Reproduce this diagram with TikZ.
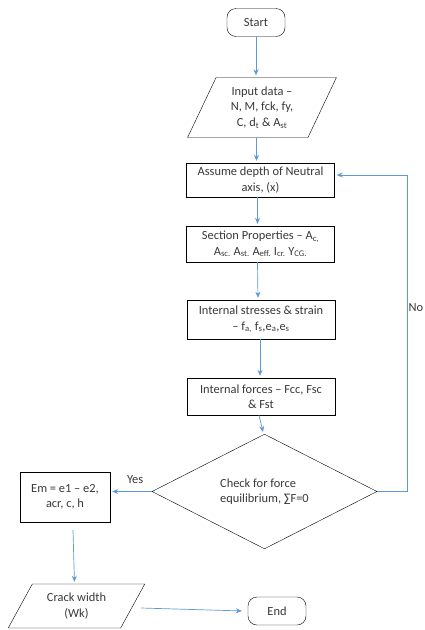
\documentclass[tikz,border=0pt]{standalone}
\usepackage{fontspec}
\setmainfont{Carlito}
\usepackage{tikz}
\usetikzlibrary{arrows.meta,positioning,shapes.geometric,calc}
\definecolor{flowblue}{RGB}{91,155,213}
\definecolor{txtgray}{RGB}{56,56,56}

\begin{document}
\begin{tikzpicture}[
        x=1pt,y=-1pt,
        every node/.style={font=\fontsize{12.4}{15.5}\selectfont,text=txtgray},
        term/.style={draw,rounded corners=9pt,minimum width=58pt,minimum height=28pt},
        proc/.style={draw,align=center,minimum width=148pt,minimum height=37pt,inner sep=1pt},
        io/.style={draw,trapezium,trapezium left angle=#1,trapezium right angle=180-#1,
          trapezium stretches=true,align=center,inner sep=0pt},
        dec/.style={draw,diamond,align=left,minimum width=225pt,minimum height=87pt,inner sep=0pt},
        arr/.style={draw=flowblue,line width=0.7pt,-{Stealth[length=6pt,width=5pt]},shorten >=2pt}
      ]
      \useasboundingbox (0,0) rectangle (425,630);

      \node[term] (start) at (256,22.5) {Start};
      \node[io=65,minimum width=149pt,minimum height=60pt] (input) at (262,107.5)
        {Input data --\\N, M, fck, fy,\\C, d\textsubscript{t} \& A\textsubscript{st}};
      \node[proc,minimum height=34pt] (assume) at (260.5,180) {Assume depth of Neutral\\axis, (x)};
      \node[proc,minimum height=36pt] (sect) at (260.5,244)
        {Section Properties -- A\textsubscript{c,}\\A\textsubscript{sc.} A\textsubscript{st.} A\textsubscript{eff.} I\textsubscript{cr.} Y\textsubscript{CG.}};
      \node[proc,minimum height=39pt] (stress) at (261,319.5)
        {Internal stresses \& strain\\-- f\textsubscript{a,} f\textsubscript{s},e\textsubscript{a},e\textsubscript{s}};
      \node[proc] (force) at (261,396.5) {Internal forces -- Fcc, Fsc\\\& Fst};
      \node[dec] (check) at (264.5,491.5) {Check for force\\equilibrium, ∑F=0};
      \node[draw,align=center,minimum width=90pt,minimum height=50pt] (em) at (65,497)
        {Em = e1 -- e2,\\acr, c, h};
      \node[io=58,minimum width=137pt,minimum height=44pt] (crack) at (76.5,606) {Crack width\\(Wk)};
      \node[term] (end) at (277,611) {End};

      % main line
      \draw[arr] (start.south) -- (start.south |- input.north);
      \draw[arr] ([xshift=-4pt]assume.north |- input.south) -- ([xshift=-4pt]assume.north);
      \draw[arr] ([xshift=-3pt]assume.south) -- ([xshift=-3pt]sect.north);
      \draw[arr] ([xshift=-3pt]sect.south) -- ([xshift=-3pt]stress.north);
      \draw[arr] ([xshift=-1pt]stress.south) -- ([xshift=-1pt]force.north);
      \draw[arr] ([xshift=-2pt]force.south) -- ([xshift=-1pt]check.north);

      % yes / no branches
      \draw[arr] (check.west) -- node[above=4pt,pos=0.4]{Yes} (check.west -| em.east);
      \draw[arr] (check.east) -- ++(30,0) |- node[pos=0.29,right=0.5pt,inner sep=0.5pt]{No} ([yshift=5pt]assume.east);

      \draw[arr] ([xshift=8pt,yshift=-8pt]em.south) -- ([xshift=-2pt]crack.north);
      \draw[arr] ([xshift=8pt,yshift=-2pt]crack.east) -- ([xshift=-4pt]end.west);
    \end{tikzpicture}
\end{document}
